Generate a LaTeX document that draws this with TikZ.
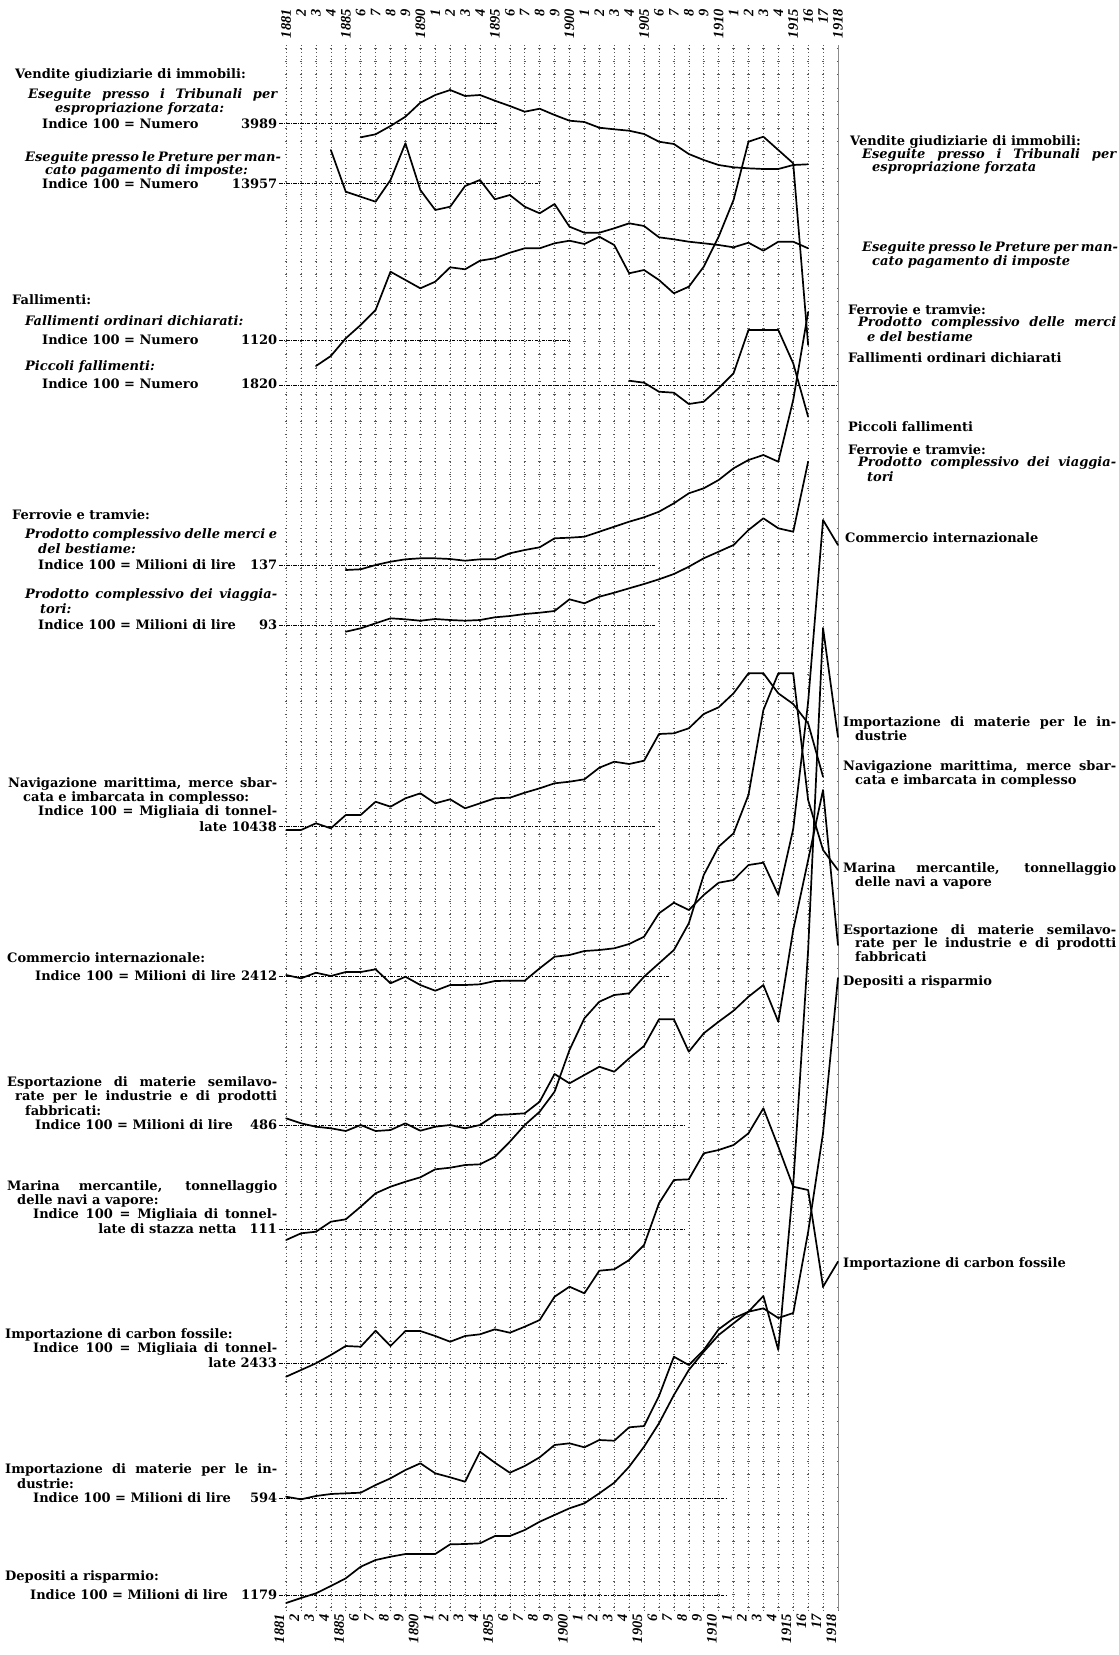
\documentclass[tikz,border=0pt]{standalone}
\usepackage{fontspec}
\setmainfont{DejaVu Serif}
\newfontfamily\yrfont{Liberation Serif}
\tikzset{
 gridv/.style={line width=0.55pt, black!65, dash pattern=on 0.9pt off 2.6pt},
 gridh/.style={line width=0.55pt, black!65, dash pattern=on 2.4pt off 12.515pt, dash phase=9.015pt},
 curve/.style={line width=1.7pt, line join=round, line cap=round},
 idx/.style={line width=0.9pt, dash pattern=on 3.5pt off 1.2pt on 1pt off 1.2pt},
 lbl/.style={font=\fontsize{13}{14}\selectfont\bfseries, inner sep=0pt, anchor=west},
 ilbl/.style={lbl, font=\fontsize{13}{14}\selectfont\bfseries\itshape},
 yr/.style={font=\yrfont\fontsize{14.5}{14.5}\selectfont\bfseries\itshape, rotate=90, anchor=east, inner sep=0pt},
}
\newcommand\jl[5]{\node[#1] (#2) at (#3,#4) {\makebox[\dimexpr 277pt-#3pt\relax][s]{#5}};}
\newcommand\jr[5]{\node[#1] (#2) at (#3,#4) {\makebox[\dimexpr 1116pt-#3pt\relax][s]{#5}};}
\begin{document}
\begin{tikzpicture}[x=1pt,y=-1pt]
\useasboundingbox (0,0) rectangle (1119,1655);
% grid
\foreach \k in {0,...,117} \draw[gridh] (279,{48+13.33*\k}) -- (842,{48+13.33*\k});
\foreach \i in {0,...,37} \draw[gridv] ({286.1+14.915*\i},45) -- ({286.1+14.915*\i},1610);
\draw[line width=0.4pt, black!45] ({286.1+14.915*37},45) -- ({286.1+14.915*37},1610);

\begin{scope}[x=14.915pt,y=-1pt,xshift=286.1pt]
% year labels
\foreach \i/\t in {0/1881,1/2,2/3,3/4,4/1885,5/6,6/7,7/8,8/9,9/1890,10/1,11/2,12/3,13/4,14/1895,15/6,16/7,17/8,18/9,19/1900,20/1,21/2,22/3,23/4,24/1905,25/6,26/7,27/8,28/9,29/1910,30/1,31/2,32/3,33/4,34/1915,35/16,36/17,37/1918}{
  \node[yr] (ty\i) at (\i,9) {\t};
  \node[yr] (by\i) at ({\i-0.45},1614) {\t};
}
% index lines
\draw[idx] (-0.45,123.5) -- (14.2,123.5);
\draw[idx] (-0.45,183.3) -- (17.1,183.3);
\draw[idx] (-0.45,340) -- (19,340);
\draw[idx] (-0.45,385) -- (37,385);
\draw[idx] (-0.45,565) -- (24.8,565);
\draw[idx] (-0.45,625) -- (24.8,625);
\draw[idx] (-0.45,826.7) -- (24.8,826.7);
\draw[idx] (-0.45,976) -- (25.7,976);
\draw[idx] (-0.45,1125) -- (26.7,1125);
\draw[idx] (-0.45,1229.3) -- (26.7,1229.3);
\draw[idx] (-0.45,1363.3) -- (29.6,1363.3);
\draw[idx] (-0.45,1498.3) -- (29.6,1498.3);
\draw[idx] (-0.45,1595) -- (29.6,1595);
% curves
\draw[curve] plot coordinates {(5,137.3)(6,134.3)(7,126)(8,116.7)(9,102.7)(10,95)(11,90)(12,96)(13,95)(14,100.7)(15,106)(16,111.7)(17,108.7)(18,115)(19,120.7)(20,122)(21,127.7)(22,129.3)(23,130.7)(24,134)(25,141.7)(26,144)(27,154)(28,160)(29,165)(30,167.3)(31,168.3)(32,169)(33,169)(34,165)(35,164.3)};
\draw[curve] plot coordinates {(3,150)(4,191.7)(5,196.7)(6,201.7)(7,180)(8,143.3)(9,190)(10,210)(11,206.7)(12,186)(13,180)(14,199.3)(15,195)(16,206.7)(17,213.3)(18,204)(19,226.7)(20,232.7)(21,232.7)(22,228.3)(23,223.3)(24,226)(25,237.3)(26,239.3)(27,241.7)(28,243.3)(29,245)(30,247.3)(31,242.7)(32,250.7)(33,241.7)(34,241.7)(35,248.3)};
\draw[curve] plot coordinates {(2,366)(3,356)(4,338.3)(5,325)(6,310)(7,271.7)(8,280)(9,288.3)(10,281.7)(11,267.3)(12,269.3)(13,260.7)(14,258.3)(15,252.7)(16,248.3)(17,248.3)(18,243.3)(19,240.7)(20,244)(21,236.7)(22,245)(23,273.3)(24,270)(25,280)(26,293.3)(27,286.7)(28,266.7)(29,236.7)(30,200)(31,141.7)(32,136.7)(33,150)(34,163.3)(35,345)};
\draw[curve] plot coordinates {(23,380.7)(24,382.7)(25,391.7)(26,392.7)(27,404)(28,401.7)(29,388.3)(30,373.3)(31,330)(32,330)(33,330)(34,363.3)(35,416.7)};
\draw[curve] plot coordinates {(4,570)(5,569.3)(6,565)(7,561.7)(8,559.3)(9,558.3)(10,558.3)(11,559)(12,560.7)(13,559.3)(14,559.3)(15,553.3)(16,550)(17,547.3)(18,538.3)(19,537.7)(20,536.7)(21,531.7)(22,526.7)(23,521.7)(24,517.3)(25,511.7)(26,503.3)(27,493.3)(28,488.3)(29,480)(30,468.3)(31,460)(32,455)(33,461.7)(34,400)(35,312)};
\draw[curve] plot coordinates {(4,631.7)(5,628.3)(6,623.3)(7,618.3)(8,619.3)(9,620.7)(10,619)(11,620)(12,620.7)(13,620)(14,617.3)(15,616)(16,614)(17,612.7)(18,611)(19,599.3)(20,603.3)(21,596.7)(22,592.7)(23,588.3)(24,584)(25,579.3)(26,574)(27,566.7)(28,558.3)(29,551.7)(30,545)(31,530)(32,518.3)(33,528.3)(34,531.7)(35,461.7)};
\draw[curve] plot coordinates {(0,830)(1,830)(2,823.3)(3,828.3)(4,815)(5,815)(6,801.7)(7,806.7)(8,798.3)(9,793.3)(10,803.3)(11,799.3)(12,808.3)(13,803.3)(14,798.3)(15,797.7)(16,792.7)(17,788.3)(18,783.3)(19,781.7)(20,779.3)(21,767.7)(22,761.7)(23,764)(24,760.7)(25,734)(26,733.3)(27,728.3)(28,714)(29,707.3)(30,693.3)(31,673.3)(32,673.3)(33,693.3)(34,704)(35,723.3)(36,776.7)};
\draw[curve] plot coordinates {(0,975)(1,978.3)(2,972.7)(3,976)(4,972)(5,972)(6,969.3)(7,983.3)(8,976.7)(9,985)(10,990.7)(11,985)(12,985)(13,984.3)(14,981)(15,980.7)(16,980.7)(17,968.3)(18,956.7)(19,955)(20,951)(21,950)(22,948.3)(23,944)(24,936.7)(25,913.3)(26,902.7)(27,910)(28,895)(29,882.7)(30,880)(31,865)(32,862.7)(33,895)(34,829)(35,702)(36,520)(37,545)};
\draw[curve] plot coordinates {(0,1118.3)(1,1123.3)(2,1126.7)(3,1128.3)(4,1131)(5,1125)(6,1131)(7,1130)(8,1123.3)(9,1130.7)(10,1126.7)(11,1125)(12,1128.3)(13,1125)(14,1115)(15,1114.3)(16,1113.3)(17,1101.7)(18,1074)(19,1083.3)(20,1075)(21,1066.7)(22,1071.7)(23,1058.3)(24,1046)(25,1019.3)(26,1019.3)(27,1051.7)(28,1033.3)(29,1021.7)(30,1010.7)(31,996.7)(32,985)(33,1021.7)(34,930)(35,860)(36,790)(37,945)};
\draw[curve] plot coordinates {(0,1240)(1,1233.3)(2,1231.7)(3,1221.7)(4,1219.3)(5,1206.7)(6,1193.3)(7,1186.7)(8,1181.7)(9,1177.3)(10,1169.3)(11,1167.7)(12,1165)(13,1164.3)(14,1156.7)(15,1141.7)(16,1125)(17,1111.7)(18,1091.7)(19,1050)(20,1018.3)(21,1001.7)(22,995)(23,993.3)(24,976.7)(25,963.3)(26,950)(27,923.3)(28,875)(29,846.7)(30,833.3)(31,795)(32,710)(33,673.3)(34,673.3)(35,800)(36,850)(37,870)};
\draw[curve] plot coordinates {(0,1376.7)(1,1370)(2,1363.3)(3,1355)(4,1346)(5,1346.7)(6,1330.7)(7,1346)(8,1331)(9,1331)(10,1336)(11,1341.7)(12,1336)(13,1334.3)(14,1329.3)(15,1332.7)(16,1326.7)(17,1320)(18,1296.7)(19,1286.7)(20,1293.3)(21,1270.7)(22,1269.3)(23,1260)(24,1245)(25,1203.3)(26,1180)(27,1179.3)(28,1153.3)(29,1150)(30,1145)(31,1133.3)(32,1108.3)(33,1146.7)(34,1186.7)(35,1190)(36,1286.7)(37,1261.7)};
\draw[curve] plot coordinates {(0,1496.7)(1,1499.3)(2,1496)(3,1494)(4,1493.3)(5,1492.7)(6,1485)(7,1478.3)(8,1470)(9,1463.3)(10,1473.3)(11,1477.3)(12,1481.7)(13,1451.7)(14,1462.7)(15,1472.7)(16,1466)(17,1457.3)(18,1445)(19,1443.3)(20,1447.3)(21,1440)(22,1440.7)(23,1427.3)(24,1426)(25,1396)(26,1356.7)(27,1365)(28,1350)(29,1329.3)(30,1318.3)(31,1311.7)(32,1296)(33,1350)(34,1185)(35,950)(36,628)(37,737)};
\draw[curve] plot coordinates {(0,1603)(1,1598)(2,1593.3)(3,1586)(4,1578.3)(5,1566.7)(6,1560)(7,1556.7)(8,1554)(9,1554)(10,1554)(11,1544.3)(12,1544)(13,1543.3)(14,1536)(15,1536)(16,1530)(17,1521.7)(18,1515)(19,1508.3)(20,1503.3)(21,1493.3)(22,1482.7)(23,1466.7)(24,1446.7)(25,1423.3)(26,1395)(27,1370)(28,1351.7)(29,1335)(30,1323.3)(31,1311.7)(32,1308.3)(33,1318)(34,1313)(35,1232)(36,1133)(37,978)};
\end{scope}

% ---- left labels
\node[lbl] (lv0) at (15,75) {Vendite giudiziarie di immobili:};
\jl{ilbl}{lv1}{28}{95}{Eseguite presso i Tribunali per}
\node[ilbl] (lv2) at (55,109) {espropriazione forzata:};
\jl{lbl}{lv3}{42}{123.5}{Indice 100 = Numero\hfill 3989}
\jl{ilbl}{lp1}{25}{158}{Eseguite presso le Preture per man-}
\node[ilbl] (lp2) at (45,171) {cato pagamento di imposte:};
\jl{lbl}{lp3}{42}{184}{Indice 100 = Numero\hfill 13957}
\node[lbl] (lf0) at (12,300) {Fallimenti:};
\node[ilbl] (lf1) at (25,321) {Fallimenti ordinari dichiarati:};
\jl{lbl}{lf2}{42}{340}{Indice 100 = Numero\hfill 1120}
\node[ilbl] (lf3) at (25,367) {Piccoli fallimenti:};
\jl{lbl}{lf4}{42}{384}{Indice 100 = Numero\hfill 1820}
\node[lbl] (lr0) at (12,515) {Ferrovie e tramvie:};
\jl{ilbl}{lr1}{25}{535}{Prodotto complessivo delle merci e}
\node[ilbl] (lr2) at (38,549) {del bestiame:};
\jl{lbl}{lr3}{38}{565}{Indice 100 = Milioni di lire\hfill 137}
\jl{ilbl}{lr4}{25}{595}{Prodotto complessivo dei viaggia-}
\node[ilbl] (lr5) at (40,609) {tori:};
\jl{lbl}{lr6}{38}{625}{Indice 100 = Milioni di lire\hfill 93}
\jl{lbl}{ln1}{8}{784}{Navigazione marittima, merce sbar-}
\node[lbl] (ln2) at (23,798) {cata e imbarcata in complesso:};
\jl{lbl}{ln3}{38}{812}{Indice 100 = Migliaia di tonnel-}
\node[lbl,anchor=east] (ln4) at (277,827) {late 10438};
\node[lbl] (lc1) at (7,958) {Commercio internazionale:};
\jl{lbl}{lc2}{35}{976}{Indice 100 = Milioni di lire 2412}
\jl{lbl}{le1}{7}{1083}{Esportazione di materie semilavo-}
\jl{lbl}{le2}{15}{1097}{rate per le industrie e di prodotti}
\node[lbl] (le3) at (25,1111) {fabbricati:};
\jl{lbl}{le4}{35}{1125}{Indice 100 = Milioni di lire\hfill 486}
\jl{lbl}{lm1}{7}{1187}{Marina mercantile, tonnellaggio}
\node[lbl] (lm2) at (17,1201) {delle navi a vapore:};
\jl{lbl}{lm3}{33}{1215}{Indice 100 = Migliaia di tonnel-}
\node[lbl,anchor=east] (lm4) at (277,1229) {late di stazza netta\quad 111};
\node[lbl] (lk1) at (5,1335) {Importazione di carbon fossile:};
\jl{lbl}{lk2}{33}{1349}{Indice 100 = Migliaia di tonnel-}
\node[lbl,anchor=east] (lk3) at (277,1363) {late 2433};
\jl{lbl}{li1}{5}{1470}{Importazione di materie per le in-}
\node[lbl] (li2) at (17,1484) {dustrie:};
\jl{lbl}{li3}{33}{1498}{Indice 100 = Milioni di lire\hfill 594}
\node[lbl] (ld1) at (5,1577) {Depositi a risparmio:};
\jl{lbl}{ld2}{30}{1595}{Indice 100 = Milioni di lire\hfill 1179}

% ---- right labels
\node[lbl] (rv0) at (850,142) {Vendite giudiziarie di immobili:};
\jr{ilbl}{rv1}{862}{155}{Eseguite presso i Tribunali per}
\node[ilbl] (rv2) at (872,168) {espropriazione forzata};
\jr{ilbl}{rp1}{862}{248}{Eseguite presso le Preture per man-}
\node[ilbl] (rp2) at (872,262) {cato pagamento di imposte};
\node[lbl] (rf0) at (848,310) {Ferrovie e tramvie:};
\jr{ilbl}{rf1}{858}{323}{Prodotto complessivo delle merci}
\node[ilbl] (rf2) at (867,337) {e del bestiame};
\node[lbl] (ro) at (848,358) {Fallimenti ordinari dichiarati};
\node[lbl] (rpf) at (848,427) {Piccoli fallimenti};
\node[lbl] (rg0) at (848,450) {Ferrovie e tramvie:};
\jr{ilbl}{rg1}{858}{463}{Prodotto complessivo dei viaggia-}
\node[ilbl] (rg2) at (867,477) {tori};
\node[lbl] (rc) at (845,538) {Commercio internazionale};
\jr{lbl}{ri1}{843}{723}{Importazione di materie per le in-}
\node[lbl] (ri2) at (855,736) {dustrie};
\jr{lbl}{rn1}{843}{767}{Navigazione marittima, merce sbar-}
\node[lbl] (rn2) at (855,781) {cata e imbarcata in complesso};
\jr{lbl}{rm1}{843}{869}{Marina mercantile, tonnellaggio}
\node[lbl] (rm2) at (855,883) {delle navi a vapore};
\jr{lbl}{re1}{843}{931}{Esportazione di materie semilavo-}
\jr{lbl}{re2}{855}{944}{rate per le industrie e di prodotti}
\node[lbl] (re3) at (855,957) {fabbricati};
\node[lbl] (rd) at (843,982) {Depositi a risparmio};
\node[lbl] (rk) at (843,1264) {Importazione di carbon fossile};
\end{tikzpicture}
\end{document}
